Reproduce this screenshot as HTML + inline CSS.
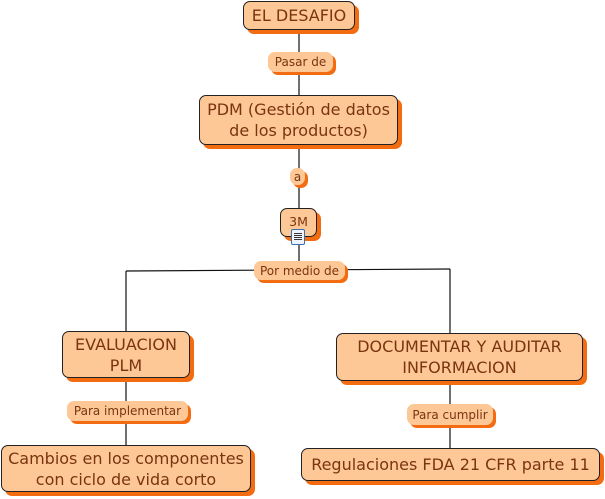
<!DOCTYPE html>
<html><head><meta charset="utf-8"><style>
body{margin:0;width:605px;height:499px;background:#fff;position:relative;overflow:hidden;font-family:"DejaVu Sans","Liberation Sans",sans-serif;}
.n{position:absolute;box-sizing:border-box;background:#fec896;border:1px solid #222;border-radius:7px;box-shadow:4px 4px 0 #f46c12;color:#7a3410;font-size:16px;line-height:21px;text-align:center;display:flex;align-items:center;justify-content:center;white-space:nowrap;}
.l{position:absolute;box-sizing:border-box;background:#fec896;border-radius:7px;box-shadow:3px 3px 0 #f46c12;color:#7a3410;font-size:12px;text-align:center;display:flex;align-items:center;justify-content:center;white-space:nowrap;}
svg{position:absolute;left:0;top:0}
</style></head><body>
<svg width="605" height="499"><g stroke="#111" stroke-width="1.2" fill="none">
<line x1="299" y1="30" x2="299" y2="95"/>
<line x1="299" y1="145" x2="299" y2="208"/>
<line x1="299" y1="237" x2="299" y2="262"/>
<line x1="126" y1="271" x2="450" y2="269"/>
<line x1="126" y1="271" x2="126" y2="331"/>
<line x1="450" y1="269" x2="450" y2="333"/>
<line x1="126" y1="378" x2="126" y2="445"/>
<line x1="450" y1="381" x2="450" y2="448"/>
</g></svg>
<div class="n" style="left:243px;top:1px;width:112px;height:29px">EL DESAFIO</div>
<div class="l" style="left:268px;top:52px;width:65px;height:20px">Pasar de</div>
<div class="n" style="left:199px;top:95px;width:199px;height:50px">PDM (Gestión de datos<br>de los productos)</div>
<div class="l" style="left:290px;top:168px;width:15px;height:17px">a</div>
<div class="n" style="left:280px;top:208px;width:37px;height:29px;font-size:12.5px;align-items:flex-start;padding-top:2px">3M</div>
<div style="position:absolute;left:291px;top:229px;width:14px;height:16px;box-sizing:border-box;border:1px solid #3a6fb0;background:#eef4ff;border-radius:2px"><div style="margin:3px 2px;height:8px;background:repeating-linear-gradient(#333 0 1px,transparent 1px 2px)"></div></div>
<div class="l" style="left:254px;top:261px;width:91px;height:19px">Por medio de</div>
<div class="n" style="left:62px;top:331px;width:128px;height:47px">EVALUACION<br>PLM</div>
<div class="l" style="left:67px;top:401px;width:121px;height:20px">Para implementar</div>
<div class="n" style="left:1px;top:445px;width:250px;height:47px">Cambios en los componentes<br>con ciclo de vida corto</div>
<div class="n" style="left:336px;top:333px;width:247px;height:48px">DOCUMENTAR Y AUDITAR<br>INFORMACION</div>
<div class="l" style="left:407px;top:404px;width:86px;height:21px">Para cumplir</div>
<div class="n" style="left:301px;top:448px;width:299px;height:33px">Regulaciones FDA 21 CFR parte 11</div>
</body></html>
